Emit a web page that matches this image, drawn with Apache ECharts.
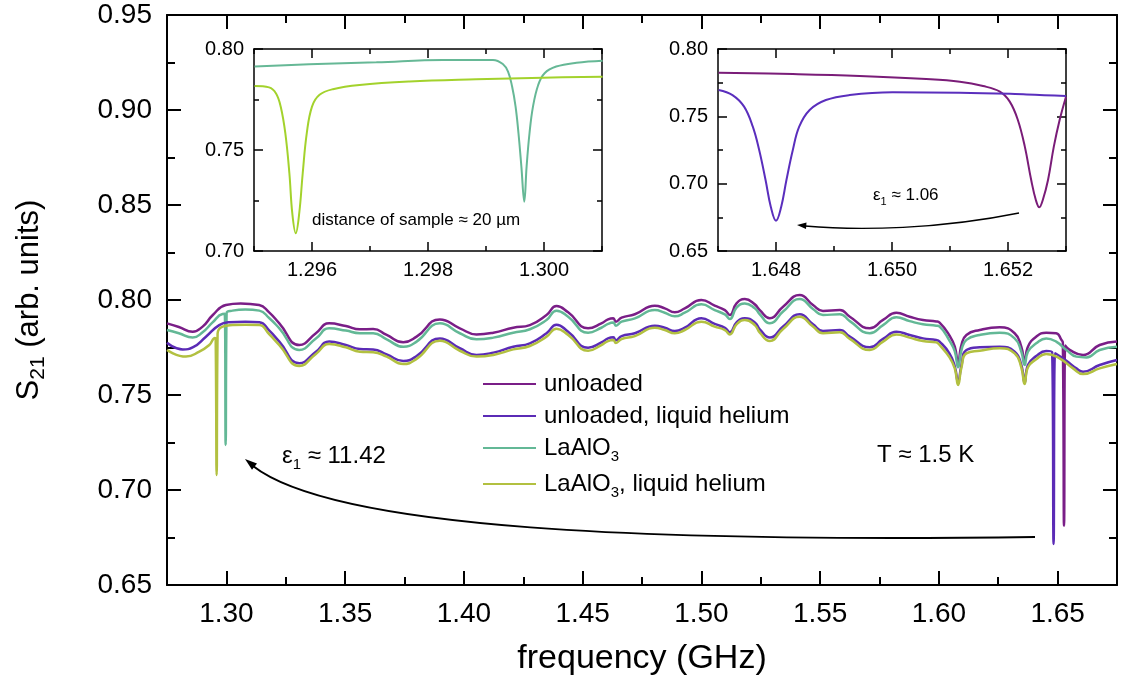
<!DOCTYPE html>
<html>
<head>
<meta charset="utf-8">
<script src="https://cdn.jsdelivr.net/npm/echarts@6/dist/echarts.min.js"></script>
<style>
html,body{margin:0;padding:0;background:#fff;}
#chart{width:1126px;height:693px;}
</style>
</head>
<body>
<div id="chart"></div>
<script>
// ---------- data (frequency in GHz, S21 in arb. units) ----------
const seriesNames = ['unloaded', 'unloaded, liquid helium', 'LaAlO3', 'LaAlO3, liquid helium'];

const unloadedData = [[1.275,0.7877],[1.2800,0.7858],[1.2858,0.7833],[1.2900,0.7860],[1.2943,0.7921],[1.2998,0.7974],[1.3060,0.7982],[1.3138,0.7974],[1.3180,0.7935],[1.3223,0.7877],[1.3307,0.7763],[1.3377,0.7825],[1.3433,0.7877],[1.3503,0.7863],[1.3562,0.7846],[1.3618,0.7847],[1.3675,0.7816],[1.3745,0.7777],[1.3801,0.7807],[1.3899,0.7898],[1.3983,0.7851],[1.4053,0.7819],[1.4124,0.7828],[1.4208,0.7854],[1.4278,0.7868],[1.4348,0.7921],[1.4390,0.7968],[1.4439,0.7935],[1.4523,0.7851],[1.4579,0.7877],[1.4607,0.7898],[1.4629,0.7904],[1.4640,0.7886],[1.4664,0.7907],[1.4720,0.7925],[1.4804,0.7970],[1.4846,0.7956],[1.4888,0.7935],[1.4930,0.7956],[1.5000,0.8000],[1.5056,0.7970],[1.5099,0.7947],[1.5120,0.7921],[1.5148,0.7982],[1.5183,0.8005],[1.5225,0.7977],[1.5246,0.7947],[1.5288,0.7904],[1.5344,0.7965],[1.5414,0.8026],[1.5470,0.7974],[1.5512,0.7942],[1.5583,0.7947],[1.5625,0.7912],[1.5709,0.7851],[1.5765,0.7895],[1.5821,0.7933],[1.5877,0.7912],[1.5933,0.7895],[1.5989,0.7887],[1.6003,0.7881],[1.6045,0.7812],[1.6067,0.7754],[1.6081,0.7670],[1.6095,0.7763],[1.6116,0.7816],[1.6172,0.7842],[1.6256,0.7856],[1.6319,0.7825],[1.6347,0.7754],[1.6361,0.7675],[1.6375,0.7754],[1.6410,0.7807],[1.6452,0.7828],[1.6494,0.7825],[1.6516,0.7790],[1.6522,0.7775],[1.6527,0.6812],[1.6532,0.7760],[1.6551,0.7737],[1.6607,0.7711],[1.6677,0.7763],[1.675,0.7781]];

const unloadedHeData = [[1.275,0.7775],[1.2816,0.7740],[1.2860,0.7752],[1.2914,0.7807],[1.2970,0.7868],[1.3012,0.7883],[1.3080,0.7886],[1.3139,0.7883],[1.3180,0.7840],[1.3223,0.7781],[1.3307,0.7667],[1.3377,0.7728],[1.3433,0.7781],[1.3503,0.7763],[1.3562,0.7742],[1.3618,0.7740],[1.3675,0.7714],[1.3745,0.7679],[1.3801,0.7705],[1.3899,0.7798],[1.3983,0.7746],[1.4053,0.7711],[1.4124,0.7723],[1.4208,0.7754],[1.4278,0.7772],[1.4348,0.7825],[1.4390,0.7870],[1.4439,0.7833],[1.4523,0.7749],[1.4579,0.7777],[1.4607,0.7798],[1.4629,0.7804],[1.4640,0.7788],[1.4664,0.7810],[1.4720,0.7825],[1.4804,0.7865],[1.4846,0.7854],[1.4888,0.7837],[1.4930,0.7854],[1.5000,0.7904],[1.5056,0.7874],[1.5099,0.7854],[1.5120,0.7830],[1.5148,0.7882],[1.5183,0.7904],[1.5225,0.7882],[1.5246,0.7846],[1.5288,0.7802],[1.5344,0.7860],[1.5414,0.7925],[1.5470,0.7872],[1.5512,0.7837],[1.5583,0.7842],[1.5625,0.7807],[1.5709,0.7751],[1.5765,0.7795],[1.5821,0.7833],[1.5877,0.7816],[1.5933,0.7798],[1.5989,0.7789],[1.6003,0.7781],[1.6045,0.7718],[1.6067,0.7650],[1.6081,0.7570],[1.6095,0.7655],[1.6116,0.7737],[1.6172,0.7751],[1.6256,0.7754],[1.6319,0.7728],[1.6347,0.7658],[1.6361,0.7565],[1.6375,0.7658],[1.6410,0.7705],[1.6452,0.7732],[1.6477,0.7725],[1.6483,0.6716],[1.6489,0.7720],[1.6537,0.7680],[1.6579,0.7640],[1.6607,0.7623],[1.6677,0.7658],[1.675,0.7684]];

const laalo3Data = [[1.275,0.7842],[1.2800,0.7825],[1.2858,0.7802],[1.2900,0.7830],[1.2942,0.7882],[1.2984,0.7926],[1.2993,0.7927],[1.2997,0.7237],[1.3001,0.7932],[1.3026,0.7944],[1.3080,0.7950],[1.3139,0.7944],[1.3180,0.7905],[1.3223,0.7851],[1.3307,0.7737],[1.3377,0.7797],[1.3433,0.7851],[1.3503,0.7839],[1.3562,0.7825],[1.3618,0.7825],[1.3675,0.7793],[1.3745,0.7754],[1.3801,0.7781],[1.3899,0.7877],[1.3983,0.7825],[1.4053,0.7793],[1.4124,0.7802],[1.4208,0.7828],[1.4278,0.7846],[1.4348,0.7895],[1.4390,0.7944],[1.4439,0.7912],[1.4523,0.7828],[1.4579,0.7854],[1.4607,0.7874],[1.4629,0.7881],[1.4640,0.7865],[1.4664,0.7886],[1.4720,0.7903],[1.4804,0.7947],[1.4846,0.7933],[1.4888,0.7914],[1.4930,0.7933],[1.5000,0.7977],[1.5056,0.7947],[1.5099,0.7924],[1.5120,0.7900],[1.5148,0.7960],[1.5183,0.7982],[1.5225,0.7956],[1.5246,0.7925],[1.5288,0.7877],[1.5344,0.7939],[1.5414,0.8005],[1.5470,0.7953],[1.5512,0.7921],[1.5583,0.7925],[1.5625,0.7889],[1.5709,0.7825],[1.5765,0.7868],[1.5821,0.7909],[1.5877,0.7889],[1.5933,0.7872],[1.5989,0.7865],[1.6003,0.7860],[1.6045,0.7785],[1.6067,0.7730],[1.6081,0.7646],[1.6095,0.7735],[1.6116,0.7790],[1.6172,0.7816],[1.6256,0.7828],[1.6319,0.7798],[1.6347,0.7728],[1.6361,0.7658],[1.6375,0.7728],[1.6410,0.7772],[1.6452,0.7798],[1.6494,0.7781],[1.6537,0.7737],[1.6579,0.7702],[1.6621,0.7698],[1.6677,0.7737],[1.675,0.7754]];

const laalo3HeData = [[1.275,0.7737],[1.2830,0.7702],[1.2886,0.7728],[1.2928,0.7763],[1.2952,0.7800],[1.2955,0.7795],[1.2959,0.7079],[1.2963,0.7822],[1.2984,0.7860],[1.3026,0.7868],[1.3080,0.7870],[1.3139,0.7868],[1.3180,0.7820],[1.3223,0.7763],[1.3307,0.7653],[1.3377,0.7716],[1.3433,0.7768],[1.3503,0.7751],[1.3562,0.7728],[1.3618,0.7725],[1.3675,0.7702],[1.3745,0.7663],[1.3801,0.7690],[1.3899,0.7786],[1.3983,0.7733],[1.4053,0.7702],[1.4124,0.7711],[1.4208,0.7740],[1.4278,0.7758],[1.4348,0.7807],[1.4390,0.7849],[1.4439,0.7816],[1.4523,0.7733],[1.4579,0.7763],[1.4607,0.7784],[1.4629,0.7789],[1.4640,0.7774],[1.4664,0.7795],[1.4720,0.7810],[1.4804,0.7854],[1.4846,0.7842],[1.4888,0.7825],[1.4930,0.7842],[1.5000,0.7886],[1.5056,0.7860],[1.5099,0.7842],[1.5120,0.7819],[1.5148,0.7872],[1.5183,0.7895],[1.5225,0.7868],[1.5246,0.7828],[1.5288,0.7784],[1.5344,0.7847],[1.5414,0.7912],[1.5470,0.7860],[1.5512,0.7825],[1.5583,0.7830],[1.5625,0.7795],[1.5709,0.7737],[1.5765,0.7781],[1.5821,0.7819],[1.5877,0.7802],[1.5933,0.7784],[1.5989,0.7777],[1.6003,0.7763],[1.6045,0.7698],[1.6067,0.7640],[1.6081,0.7553],[1.6095,0.7645],[1.6116,0.7719],[1.6172,0.7733],[1.6256,0.7746],[1.6319,0.7719],[1.6347,0.7646],[1.6361,0.7558],[1.6375,0.7646],[1.6410,0.7688],[1.6452,0.7716],[1.6508,0.7693],[1.6565,0.7640],[1.6607,0.7610],[1.6677,0.7640],[1.675,0.7663]];

// inset 1 (LaAlO3 resonance shift)
const insetLaAlO3 = [[1.29501,0.7913],[1.29595,0.7924],[1.29711,0.7934],[1.29826,0.7946],[1.29912,0.7946],[1.29929,0.7926],[1.29938,0.7888],[1.29945,0.7814],[1.29951,0.7715],[1.29956,0.7583],[1.29961,0.7418],[1.29966,0.7244],[1.29970,0.7418],[1.29975,0.7583],[1.29981,0.7715],[1.29990,0.7822],[1.30001,0.7880],[1.30021,0.7913],[1.30056,0.7932],[1.30101,0.7942]];
const insetLaAlO3He = [[1.29501,0.7817],[1.29526,0.7810],[1.29538,0.7780],[1.29546,0.7715],[1.29554,0.7583],[1.29561,0.7385],[1.29566,0.7187],[1.29572,0.7088],[1.29578,0.7187],[1.29584,0.7385],[1.29591,0.7583],[1.29600,0.7715],[1.29613,0.7773],[1.29636,0.7801],[1.29682,0.7822],[1.29768,0.7839],[1.29883,0.7850],[1.29998,0.7858],[1.30101,0.7863]];
// inset 2 (unloaded resonance shift)
const insetUnloaded = [[1.64701,0.7824],[1.64829,0.7814],[1.64944,0.7800],[1.65059,0.7777],[1.65117,0.7757],[1.65157,0.7725],[1.65186,0.7683],[1.65203,0.7609],[1.65217,0.7473],[1.65229,0.7275],[1.65240,0.7027],[1.65248,0.6879],[1.65254,0.6824],[1.65260,0.6879],[1.65269,0.7027],[1.65279,0.7275],[1.65289,0.7473],[1.65300,0.7646]];
const insetUnloadedHe = [[1.64701,0.7696],[1.64725,0.7658],[1.64745,0.7572],[1.64760,0.7423],[1.64771,0.7250],[1.64782,0.7027],[1.64791,0.6829],[1.64800,0.6725],[1.64809,0.6829],[1.64818,0.7027],[1.64829,0.7250],[1.64840,0.7423],[1.64858,0.7547],[1.64886,0.7621],[1.64927,0.7658],[1.65001,0.7678],[1.65117,0.7676],[1.65232,0.7663],[1.65300,0.7651]];

// tick labels
const freqTicks = [1.30, 1.35, 1.40, 1.45, 1.50, 1.55, 1.60, 1.65];
const inset1Ticks = [1.296, 1.298, 1.300];
const inset2Ticks = [1.648, 1.650, 1.652];

// ---------- styling ----------
const FONT = '"Liberation Sans", Arial, Helvetica, sans-serif';
const colors = {
  unloaded: '#7a1e87',
  unloadedHe: '#5b2bb6',
  laalo3: '#63b896',
  laalo3He: '#b2c040',
  insetGreen: '#a3d22c',
  insetTeal: '#66b896',
  insetPurple: '#7a1c78',
  insetViolet: '#5a2ebd'
};

function isMajor(v, list) { return list.some(m => Math.abs(m - v) < 1e-7); }

function makeXAxes(gi, min, max, minorInt, majors, digits, o) {
  const ls = {color: '#000', width: o.lw};
  const base = {gridIndex: gi, type: 'value', min: min, max: max, splitLine: {show: false}};
  return [
    Object.assign({}, base, {
      position: 'bottom', interval: minorInt,
      axisLine: {show: true, onZero: false, lineStyle: ls},
      axisTick: {show: true, inside: true, length: o.minorLen, lineStyle: ls},
      axisLabel: {show: true, color: '#000', fontFamily: FONT, fontSize: o.fs, margin: o.margin,
        formatter: v => isMajor(v, majors) ? v.toFixed(digits) : ''},
      name: o.name || '', nameLocation: 'middle', nameGap: o.nameGap || 0,
      nameTextStyle: {color: '#000', fontFamily: FONT, fontSize: 34}
    }),
    Object.assign({}, base, {
      position: 'bottom',
      axisLine: {show: false, onZero: false},
      axisTick: {show: true, inside: true, length: o.majorLen, lineStyle: ls, customValues: majors},
      axisLabel: {show: false}
    }),
    Object.assign({}, base, {
      position: 'top', interval: minorInt,
      axisLine: {show: true, onZero: false, lineStyle: ls},
      axisTick: {show: true, inside: true, length: o.minorLen, lineStyle: ls},
      axisLabel: {show: false}
    }),
    Object.assign({}, base, {
      position: 'top',
      axisLine: {show: false, onZero: false},
      axisTick: {show: true, inside: true, length: o.majorLen, lineStyle: ls, customValues: majors},
      axisLabel: {show: false}
    })
  ];
}

function makeYAxes(gi, min, max, interval, o) {
  const ls = {color: '#000', width: o.lw};
  const base = {gridIndex: gi, type: 'value', min: min, max: max, interval: interval, splitLine: {show: false}};
  const left = Object.assign({}, base, {
    position: 'left',
    axisLine: {show: true, onZero: false, lineStyle: ls},
    axisTick: {show: true, inside: true, length: o.majorLen, lineStyle: ls},
    minorTick: {show: true, splitNumber: 2, length: o.minorLen, lineStyle: ls},
    axisLabel: {show: true, color: '#000', fontFamily: FONT, fontSize: o.fs, margin: o.margin, formatter: v => v.toFixed(2)}
  });
  if (o.name) {
    Object.assign(left, {
      name: o.name, nameLocation: 'middle', nameGap: o.nameGap, nameRotate: 90,
      nameTextStyle: {color: '#000', fontFamily: FONT, rich: {
        a: {fontSize: 31, lineHeight: 40, fontFamily: FONT, color: '#000'},
        s: {fontSize: 21, lineHeight: 26, verticalAlign: 'bottom', fontFamily: FONT, color: '#000'}
      }}
    });
  }
  const right = Object.assign({}, base, {
    position: 'right',
    axisLine: {show: true, onZero: false, lineStyle: ls},
    axisTick: {show: true, inside: true, length: o.majorLen, lineStyle: ls},
    minorTick: {show: true, splitNumber: 2, length: o.minorLen, lineStyle: ls},
    axisLabel: {show: false}
  });
  return [left, right];
}

const xAxes = [].concat(
  makeXAxes(0, 1.275, 1.675, 0.025, freqTicks, 2, {lw: 2, fs: 28, margin: 15, majorLen: 14, minorLen: 8, name: 'frequency (GHz)', nameGap: 57}),
  makeXAxes(1, 1.295, 1.301, 0.001, inset1Ticks, 3, {lw: 1.5, fs: 20, margin: 9, majorLen: 9, minorLen: 5}),
  makeXAxes(2, 1.647, 1.653, 0.001, inset2Ticks, 3, {lw: 1.5, fs: 20, margin: 9, majorLen: 9, minorLen: 5})
);
const yAxes = [].concat(
  makeYAxes(0, 0.65, 0.95, 0.05, {lw: 2, fs: 28, margin: 15, majorLen: 14, minorLen: 8, name: '{a|S}{s|21}{a| (arb. units)}', nameGap: 118}),
  makeYAxes(1, 0.70, 0.80, 0.05, {lw: 1.5, fs: 20, margin: 10, majorLen: 9, minorLen: 5}),
  makeYAxes(2, 0.65, 0.80, 0.05, {lw: 1.5, fs: 20, margin: 10, majorLen: 9, minorLen: 5})
);

function line(name, data, color, xi, yi, w, sm) {
  return {
    name: name, type: 'line', data: data, xAxisIndex: xi, yAxisIndex: yi,
    symbol: 'none', showSymbol: false, smooth: sm,
    lineStyle: {color: color, width: w}, itemStyle: {color: color},
    emphasis: {disabled: true}, silent: true
  };
}

const legendRich = {
  a: {fontSize: 24, lineHeight: 32, fontFamily: FONT, color: '#000'},
  s: {fontSize: 15, lineHeight: 20, verticalAlign: 'bottom', fontFamily: FONT, color: '#000'}
};

function legendLabel(n) {
  if (n.indexOf('LaAlO3') === 0) {
    const rest = n.slice(6);
    return '{a|LaAlO}{s|3}' + (rest ? '{a|' + rest + '}' : '');
  }
  return '{a|' + n + '}';
}

const option = {
  animation: false,
  backgroundColor: '#fff',
  grid: [
    {left: 167, top: 15, width: 950, height: 570, containLabel: false},
    {left: 254, top: 49, width: 348, height: 202, containLabel: false},
    {left: 718, top: 49, width: 348, height: 202, containLabel: false}
  ],
  xAxis: xAxes,
  yAxis: yAxes,
  legend: {
    data: seriesNames.map(n => ({name: n, icon: 'rect'})),
    orient: 'vertical', left: 483, top: 372, padding: 0,
    itemWidth: 53, itemHeight: 2, itemGap: 8,
    textStyle: {fontFamily: FONT, fontSize: 24, color: '#000', padding: [0, 0, 0, 3], rich: legendRich},
    formatter: legendLabel,
    selectedMode: false
  },
  series: [
    line(seriesNames[0], unloadedData, colors.unloaded, 0, 0, 2.5, 0.5),
    line(seriesNames[2], laalo3Data, colors.laalo3, 0, 0, 2.5, 0.5),
    line(seriesNames[1], unloadedHeData, colors.unloadedHe, 0, 0, 2.5, 0.5),
    line(seriesNames[3], laalo3HeData, colors.laalo3He, 0, 0, 2.5, 0.5),
    line('inset LaAlO3', insetLaAlO3, colors.insetTeal, 4, 2, 2, 0.4),
    line('inset LaAlO3 He', insetLaAlO3He, colors.insetGreen, 4, 2, 2, 0.4),
    line('inset unloaded', insetUnloaded, colors.insetPurple, 8, 4, 2, 0.4),
    line('inset unloaded He', insetUnloadedHe, colors.insetViolet, 8, 4, 2, 0.4)
  ],
  graphic: [
    {type: 'text', left: 312, top: 212, style: {text: 'distance of sample ≈ 20 µm', font: '17px ' + FONT, fill: '#000'}},
    {type: 'text', left: 873, top: 187, style: {text: '{a|ε}{s|1}{a| ≈ 1.06}', fill: '#000', rich: {
      a: {fontSize: 17, lineHeight: 24, fontFamily: FONT, color: '#000'},
      s: {fontSize: 11, lineHeight: 14, verticalAlign: 'bottom', fontFamily: FONT, color: '#000'}}}},
    {type: 'text', left: 282, top: 444, style: {text: '{a|ε}{s|1}{a| ≈ 11.42}', fill: '#000', rich: {
      a: {fontSize: 24, lineHeight: 32, fontFamily: FONT, color: '#000'},
      s: {fontSize: 15, lineHeight: 20, verticalAlign: 'bottom', fontFamily: FONT, color: '#000'}}}},
    {type: 'text', left: 877, top: 443, style: {text: 'T ≈ 1.5 K', font: '24px ' + FONT, fill: '#000'}},
    {type: 'bezierCurve', shape: {x1: 1035, y1: 537, cpx1: 650, cpy1: 542, cpx2: 335, cpy2: 530, x2: 253, y2: 466},
      style: {stroke: '#000', lineWidth: 2, fill: null}},
    {type: 'polygon', shape: {points: [[245, 459], [257, 463.5], [252, 469.7]]}, style: {fill: '#000'}},
    {type: 'bezierCurve', shape: {x1: 1019, y1: 213, cpx1: 940, cpy1: 229, cpx2: 860, cpy2: 231, x2: 805, y2: 226},
      style: {stroke: '#000', lineWidth: 1.3, fill: null}},
    {type: 'polygon', shape: {points: [[797, 225], [806.5, 222.5], [806, 229]]}, style: {fill: '#000'}}
  ]
};

const chart = echarts.init(document.getElementById('chart'), null, {renderer: 'canvas'});
chart.setOption(option);
</script>
</body>
</html>
